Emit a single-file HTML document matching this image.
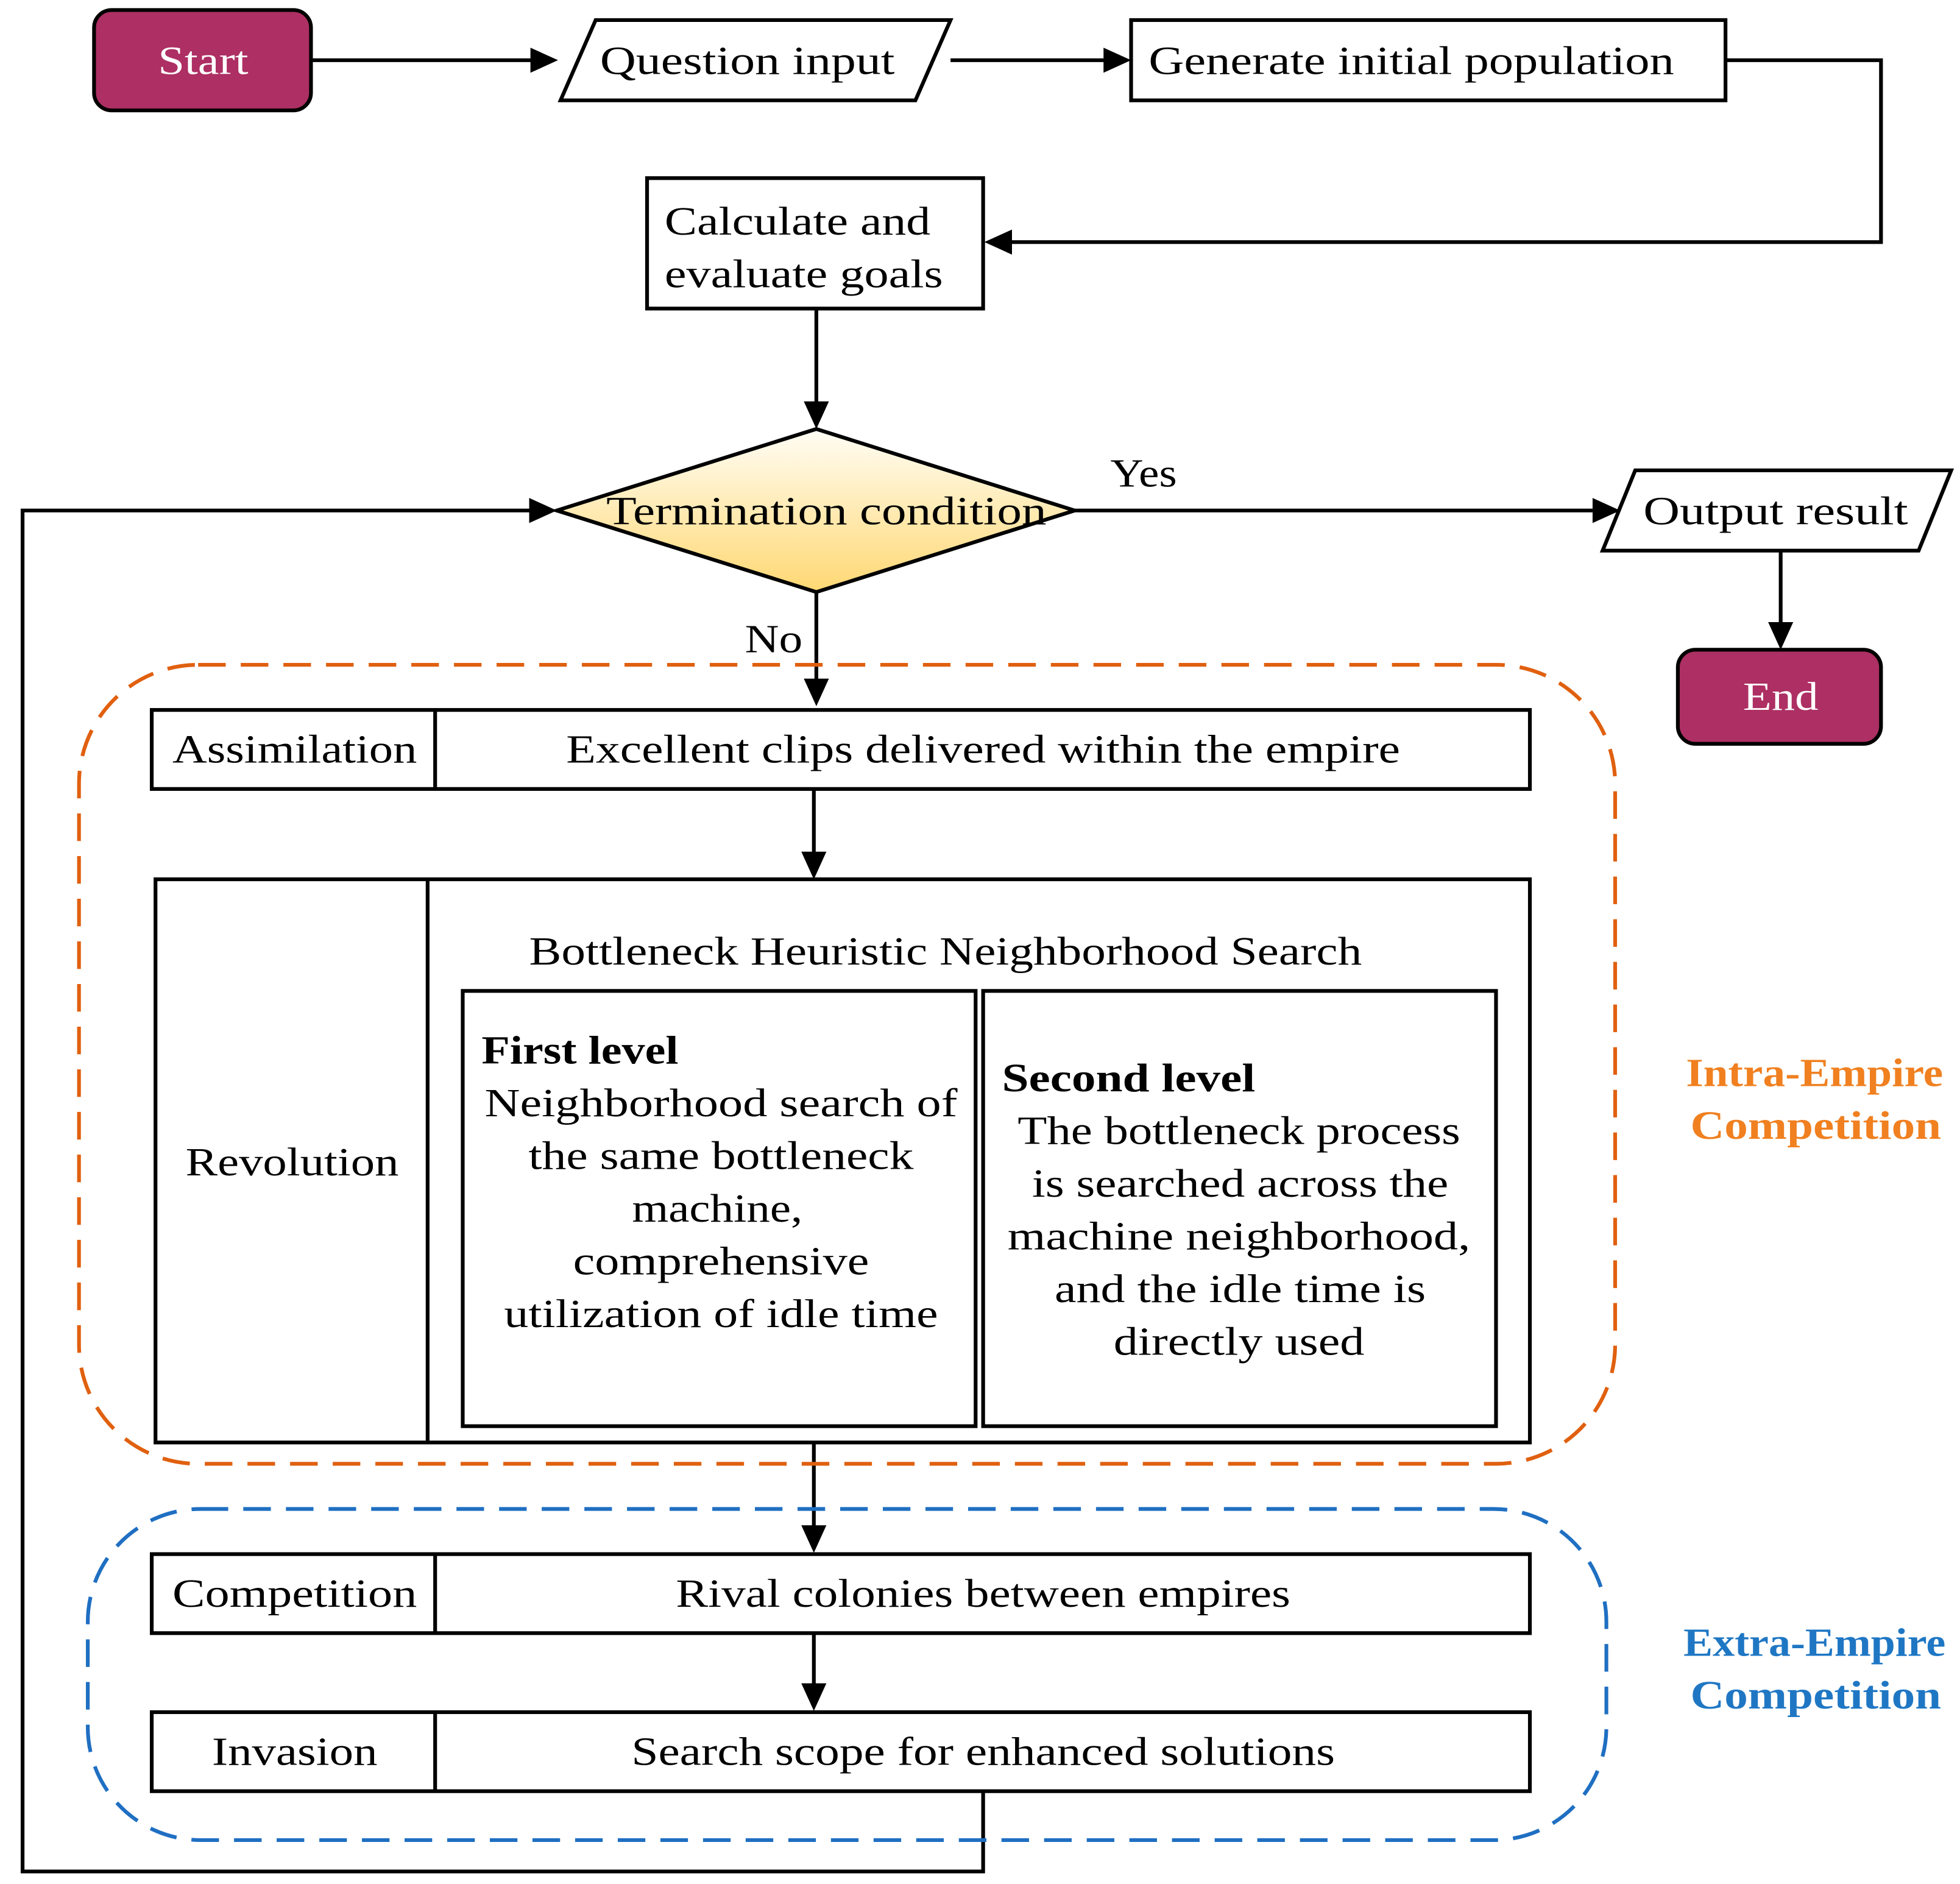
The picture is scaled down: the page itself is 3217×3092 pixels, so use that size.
<!DOCTYPE html>
<html><head><meta charset="utf-8"><style>
html,body{margin:0;padding:0;background:#fff;}
svg{display:block;}
text{font-family:"Liberation Serif",serif;font-size:32px;fill:#000;}
</style></head><body>
<svg width="3217" height="3092" viewBox="0 0 1563 1502" preserveAspectRatio="none" xmlns="http://www.w3.org/2000/svg">
<defs>
<linearGradient id="g" x1="0" y1="0" x2="0" y2="1"><stop offset="0" stop-color="#fffdf5"/><stop offset="1" stop-color="#ffd873"/></linearGradient>
</defs>
<style>
.l{stroke:#000;stroke-width:3;fill:none;}
.b{stroke:#000;stroke-width:3;fill:#fff;}
</style>
<path class="l" d="M248,48 L425,48"/>
<path d="M445,48 l-22,-10 v20z" fill="#000"/>
<path class="l" d="M758,48 L882,48"/>
<path d="M902,48 l-22,-10 v20z" fill="#000"/>
<path class="l" d="M1376,48 H1500 V193 H800"/>
<path d="M785,193 l22,-10 v20z" fill="#000"/>
<path class="l" d="M651,246 V322"/>
<path d="M651,342 l-10,-22 h20z" fill="#000"/>
<path class="l" d="M857,407 H1270"/>
<path d="M1292,407 l-22,-10 v20z" fill="#000"/>
<path class="l" d="M1420,439 V498"/>
<path d="M1420,518 l-10,-22 h20z" fill="#000"/>
<path class="l" d="M651,472 V542"/>
<path d="M651,563 l-10,-22 h20z" fill="#000"/>
<path class="l" d="M649,629 V680"/>
<path d="M649,701 l-10,-22 h20z" fill="#000"/>
<path class="l" d="M649,1150 V1217"/>
<path d="M649,1238 l-10,-22 h20z" fill="#000"/>
<path class="l" d="M649,1302 V1343"/>
<path d="M649,1364 l-10,-22 h20z" fill="#000"/>
<path class="l" d="M784,1428 V1492 H18 V407 H424"/>
<path d="M444,407 l-22,-10 v20z" fill="#000"/>

<rect x="63" y="530" width="1225" height="637" rx="95" ry="95" fill="none" stroke="#e0600f" stroke-width="3" stroke-dasharray="22,12"/>
<rect x="70" y="1203" width="1211" height="264" rx="90" ry="90" fill="none" stroke="#1f6fc2" stroke-width="3" stroke-dasharray="22,12"/>

<rect x="75" y="8" width="173" height="80" rx="14" fill="#ad2f63" stroke="#000" stroke-width="3"/>
<text x="162" y="59" text-anchor="middle" textLength="72" lengthAdjust="spacingAndGlyphs" style="fill:#fff">Start</text>
<polygon class="b" points="447,80 475,16 758,16 730,80"/>
<text x="596" y="59" text-anchor="middle" textLength="235" lengthAdjust="spacingAndGlyphs">Question input</text>
<rect class="b" x="902" y="16" width="474" height="64"/>
<text x="916" y="59" textLength="419" lengthAdjust="spacingAndGlyphs">Generate initial population</text>
<rect class="b" x="516" y="142" width="268" height="104"/>
<text x="530" y="187" textLength="212" lengthAdjust="spacingAndGlyphs">Calculate and</text>
<text x="530" y="229" textLength="222" lengthAdjust="spacingAndGlyphs">evaluate goals</text>
<polygon points="651,342 857,407 651,472 444,407" fill="url(#g)" stroke="#000" stroke-width="3"/>
<text x="659" y="418" text-anchor="middle" textLength="351" lengthAdjust="spacingAndGlyphs">Termination condition</text>
<text x="912" y="388" text-anchor="middle" textLength="53" lengthAdjust="spacingAndGlyphs">Yes</text>
<text x="617" y="520" text-anchor="middle" textLength="46" lengthAdjust="spacingAndGlyphs">No</text>
<polygon class="b" points="1278,439 1304,375 1556,375 1530,439"/>
<text x="1416" y="418" text-anchor="middle" textLength="211" lengthAdjust="spacingAndGlyphs">Output result</text>
<rect x="1338" y="518" width="162" height="75" rx="14" fill="#ad2f63" stroke="#000" stroke-width="3"/>
<text x="1420" y="566" text-anchor="middle" textLength="60" lengthAdjust="spacingAndGlyphs" style="fill:#fff">End</text>

<rect class="b" x="121" y="566" width="1099" height="63"/>
<line class="l" x1="347" y1="566" x2="347" y2="629"/>
<text x="235" y="608" text-anchor="middle" textLength="195" lengthAdjust="spacingAndGlyphs">Assimilation</text>
<text x="784" y="608" text-anchor="middle" textLength="665" lengthAdjust="spacingAndGlyphs">Excellent clips delivered within the empire</text>

<rect class="b" x="124" y="701" width="1096" height="449"/>
<line class="l" x1="341" y1="701" x2="341" y2="1150"/>
<text x="233" y="937" text-anchor="middle" textLength="170" lengthAdjust="spacingAndGlyphs">Revolution</text>
<text x="754" y="769" text-anchor="middle" textLength="664" lengthAdjust="spacingAndGlyphs">Bottleneck Heuristic Neighborhood Search</text>
<rect class="b" x="369" y="790" width="409" height="347"/>
<rect class="b" x="784" y="790" width="409" height="347"/>
<text x="384" y="848" textLength="157" lengthAdjust="spacingAndGlyphs" style="font-weight:bold">First level</text>
<g text-anchor="middle">
<text x="575" y="890" textLength="377" lengthAdjust="spacingAndGlyphs">Neighborhood search of</text>
<text x="575" y="932" textLength="307" lengthAdjust="spacingAndGlyphs">the same bottleneck</text>
<text x="572" y="974" textLength="136" lengthAdjust="spacingAndGlyphs">machine,</text>
<text x="575" y="1016" textLength="236" lengthAdjust="spacingAndGlyphs">comprehensive</text>
<text x="575" y="1058" textLength="346" lengthAdjust="spacingAndGlyphs">utilization of idle time</text>
</g>
<text x="799" y="870" textLength="202" lengthAdjust="spacingAndGlyphs" style="font-weight:bold">Second level</text>
<g text-anchor="middle">
<text x="988" y="912" textLength="353" lengthAdjust="spacingAndGlyphs">The bottleneck process</text>
<text x="989" y="954" textLength="332" lengthAdjust="spacingAndGlyphs">is searched across the</text>
<text x="988" y="996" textLength="369" lengthAdjust="spacingAndGlyphs">machine neighborhood,</text>
<text x="989" y="1038" textLength="296" lengthAdjust="spacingAndGlyphs">and the idle time is</text>
<text x="988" y="1080" textLength="200" lengthAdjust="spacingAndGlyphs">directly used</text>
</g>
<g text-anchor="middle">
<text x="1447" y="866" textLength="205" lengthAdjust="spacingAndGlyphs" style="fill:#f08020;font-weight:bold">Intra-Empire</text>
<text x="1448" y="908" textLength="200" lengthAdjust="spacingAndGlyphs" style="fill:#f08020;font-weight:bold">Competition</text>
<text x="1447" y="1320" textLength="209" lengthAdjust="spacingAndGlyphs" style="fill:#1f77c4;font-weight:bold">Extra-Empire</text>
<text x="1448" y="1362" textLength="200" lengthAdjust="spacingAndGlyphs" style="fill:#1f77c4;font-weight:bold">Competition</text>
</g>

<rect class="b" x="121" y="1239" width="1099" height="63"/>
<line class="l" x1="347" y1="1239" x2="347" y2="1302"/>
<text x="235" y="1281" text-anchor="middle" textLength="195" lengthAdjust="spacingAndGlyphs">Competition</text>
<text x="784" y="1281" text-anchor="middle" textLength="490" lengthAdjust="spacingAndGlyphs">Rival colonies between empires</text>
<rect class="b" x="121" y="1365" width="1099" height="63"/>
<line class="l" x1="347" y1="1365" x2="347" y2="1428"/>
<text x="235" y="1407" text-anchor="middle" textLength="132" lengthAdjust="spacingAndGlyphs">Invasion</text>
<text x="784" y="1407" text-anchor="middle" textLength="561" lengthAdjust="spacingAndGlyphs">Search scope for enhanced solutions</text>
</svg>
</body></html>
